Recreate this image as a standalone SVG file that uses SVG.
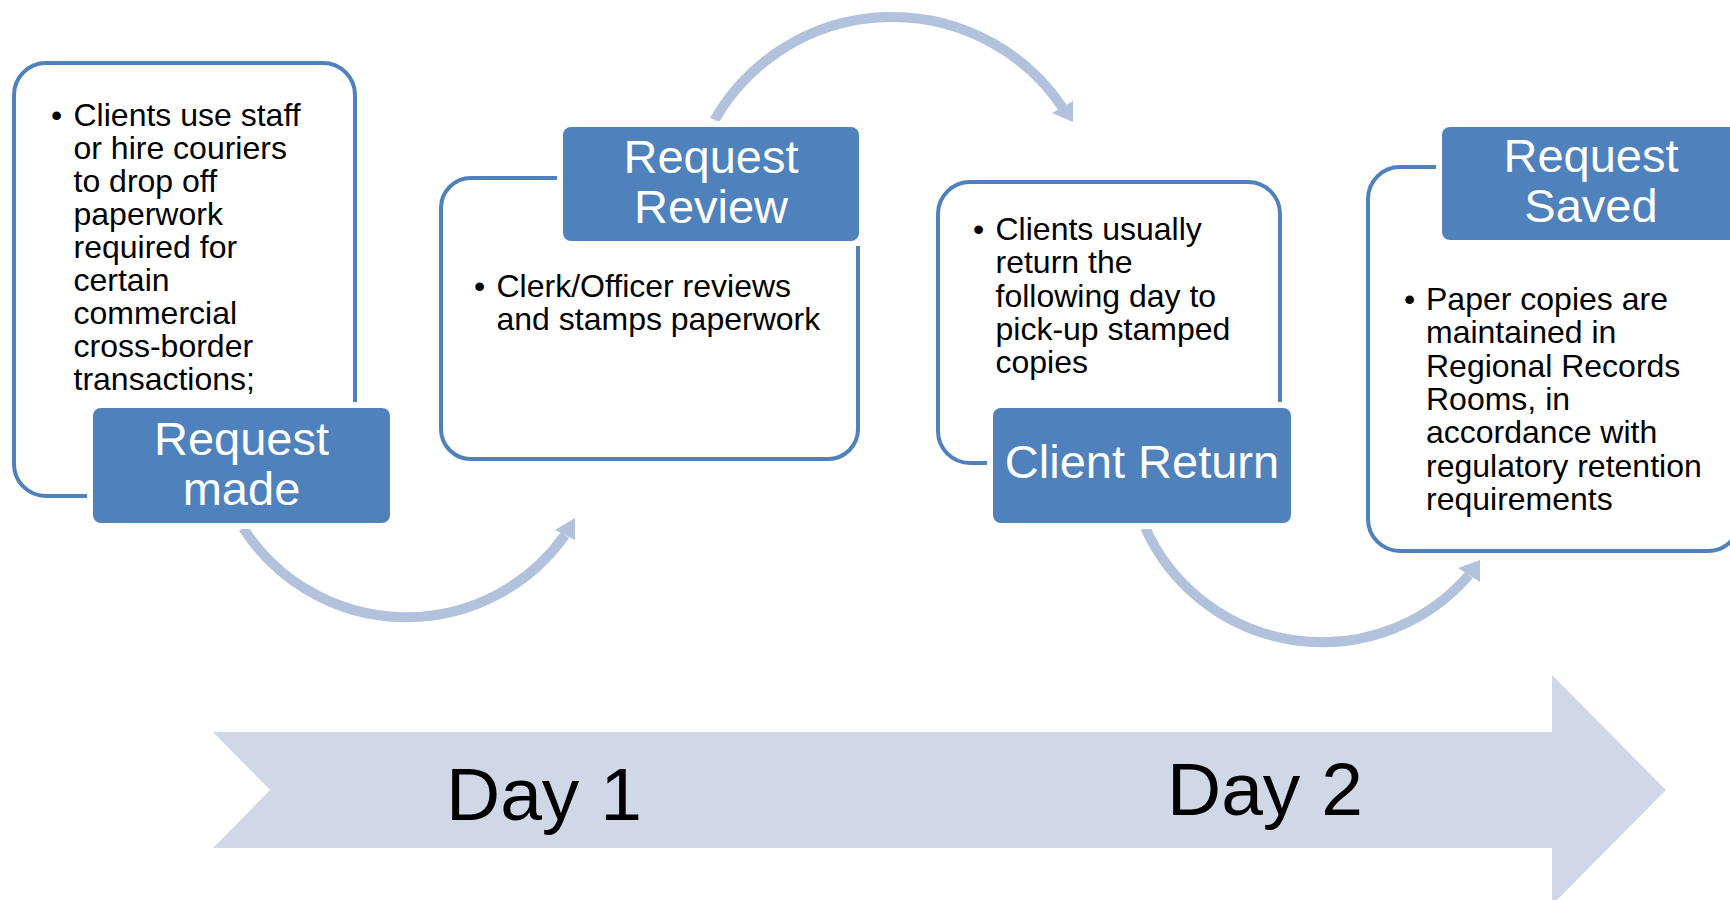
<svg xmlns="http://www.w3.org/2000/svg" width="1730" height="900" viewBox="0 0 1730 900">
<style>
.frame{fill:#FFFFFF;stroke:#4F81BD;stroke-width:4}
.gap{fill:#FFFFFF}
.label{fill:#4F81BD}
.ltxt{font-family:"Liberation Sans",Arial,sans-serif;font-size:47px;fill:#FFFFFF;text-anchor:middle}
.btxt{font-family:"Liberation Sans",Arial,sans-serif;font-size:32px;fill:#000000}
.arc{fill:none;stroke:#B2C1DC;stroke-width:10;stroke-linecap:butt}
.head{fill:#B2C1DC}
.day{font-family:"Liberation Sans",Arial,sans-serif;font-size:75px;fill:#000000}
</style>
<rect x="0" y="0" width="1730" height="900" fill="#FFFFFF"/>

<g id="timeline">
<polygon points="213,732 1552,732 1552,675 1666,790 1552,905 1552,848 213,848 270,790" fill="#D0D8E8"/>
<text class="day" x="446" y="820">Day 1</text>
<text class="day" x="1167" y="815">Day 2</text>
</g>

<g id="connectors">
<path class="arc" d="M 243.2 528 A 194 194 0 0 0 565 535"/>
<polygon class="head" points="575,518 555,530 575,540"/>
<path class="arc" d="M 714.5 120 A 205 205 0 0 1 1062.5 107.5"/>
<polygon class="head" points="1073,122 1073,101 1052,113"/>
<path class="arc" d="M 1145.3 528 A 194 194 0 0 0 1469 575"/>
<polygon class="head" points="1480,560 1458,568 1480,582"/>
</g>

<g id="node-request-made">
<rect class="frame" x="14" y="63" width="341" height="433" rx="32" ry="32"/>
<rect class="gap" x="87" y="402" width="309" height="127"/>
<rect class="label" x="93" y="408" width="297" height="115" rx="8" ry="8"/>
<text class="ltxt" x="241.5" y="455">Request</text>
<text class="ltxt" x="241.5" y="505">made</text>
<text class="btxt" x="51" y="126">•</text>
<text class="btxt" x="73.5" y="126">Clients use staff</text>
<text class="btxt" x="73.5" y="159">or hire couriers</text>
<text class="btxt" x="73.5" y="192">to drop off</text>
<text class="btxt" x="73.5" y="225">paperwork</text>
<text class="btxt" x="73.5" y="258">required for</text>
<text class="btxt" x="73.5" y="291">certain</text>
<text class="btxt" x="73.5" y="324">commercial</text>
<text class="btxt" x="73.5" y="357">cross-border</text>
<text class="btxt" x="73.5" y="390">transactions;</text>
</g>

<g id="node-request-review">
<rect class="frame" x="441" y="178" width="417" height="281" rx="30" ry="30"/>
<rect class="gap" x="557" y="121" width="308" height="125"/>
<rect class="label" x="563" y="127" width="296" height="114" rx="8" ry="8"/>
<text class="ltxt" x="711" y="173">Request</text>
<text class="ltxt" x="711" y="223">Review</text>
<text class="btxt" x="474" y="297">•</text>
<text class="btxt" x="496.5" y="297">Clerk/Officer reviews</text>
<text class="btxt" x="496.5" y="330">and stamps paperwork</text>
</g>

<g id="node-client-return">
<rect class="frame" x="938" y="182" width="342" height="281" rx="32" ry="32"/>
<rect class="gap" x="987" y="402" width="310" height="127"/>
<rect class="label" x="993" y="408" width="298" height="115" rx="8" ry="8"/>
<text class="ltxt" x="1142" y="478">Client Return</text>
<text class="btxt" x="973" y="240">•</text>
<text class="btxt" x="995.5" y="240">Clients usually</text>
<text class="btxt" x="995.5" y="273">return the</text>
<text class="btxt" x="995.5" y="307">following day to</text>
<text class="btxt" x="995.5" y="340">pick-up stamped</text>
<text class="btxt" x="995.5" y="373">copies</text>
</g>

<g id="node-request-saved">
<rect class="frame" x="1368" y="167" width="372" height="384" rx="32" ry="32"/>
<rect class="gap" x="1436" y="121" width="310" height="125"/>
<rect class="label" x="1442" y="127" width="298" height="113" rx="8" ry="8"/>
<text class="ltxt" x="1591" y="172">Request</text>
<text class="ltxt" x="1591" y="222">Saved</text>
<text class="btxt" x="1404" y="310">•</text>
<text class="btxt" x="1426" y="310">Paper copies are</text>
<text class="btxt" x="1426" y="343">maintained in</text>
<text class="btxt" x="1426" y="377">Regional Records</text>
<text class="btxt" x="1426" y="410">Rooms, in</text>
<text class="btxt" x="1426" y="443">accordance with</text>
<text class="btxt" x="1426" y="477">regulatory retention</text>
<text class="btxt" x="1426" y="510">requirements</text>
</g>
</svg>
